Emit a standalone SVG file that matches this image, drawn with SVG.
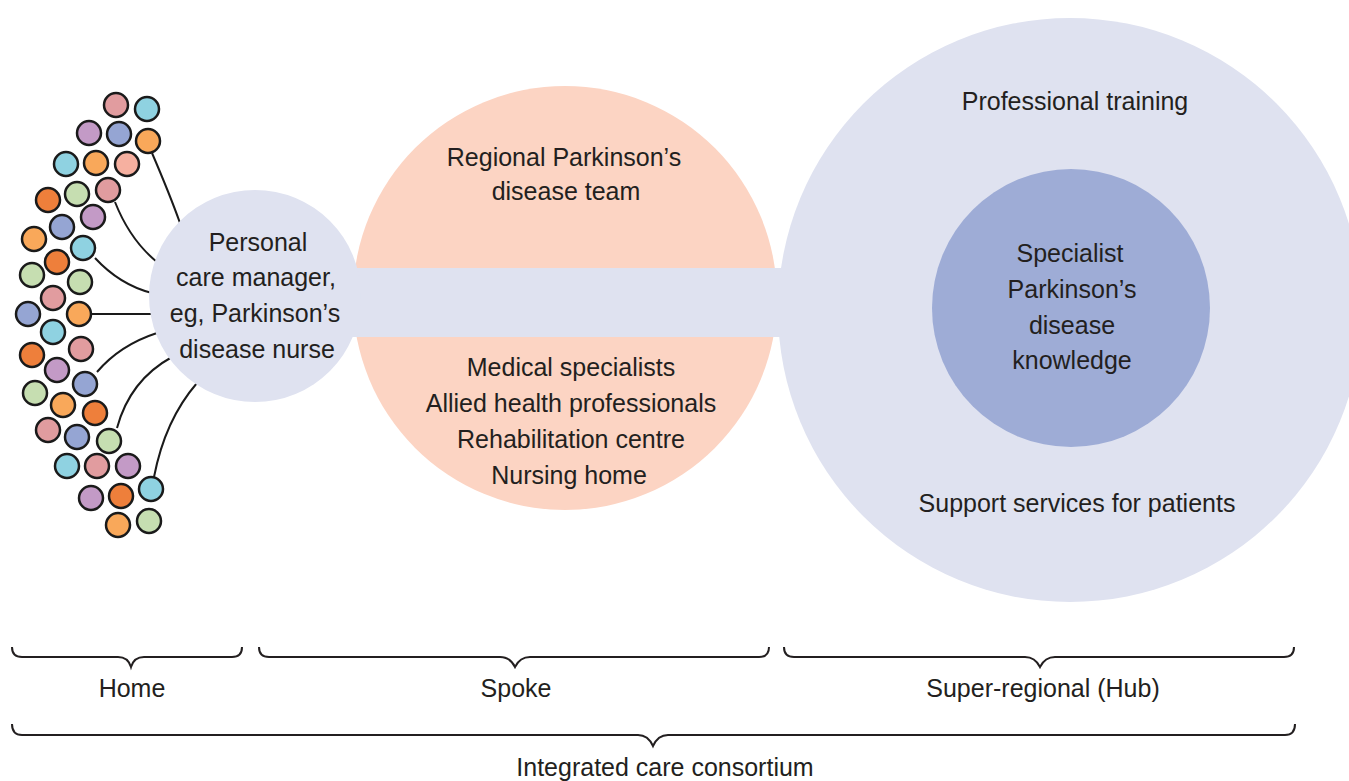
<svg xmlns="http://www.w3.org/2000/svg" width="1349" height="781" viewBox="0 0 1349 781">
<style>
.t{font-family:"Liberation Sans","Noto Sans",sans-serif;font-size:25px;fill:#231f20;text-anchor:middle}
.dot{stroke:#1a1a1a;stroke-width:2.5}
.ln{fill:none;stroke:#1a1a1a;stroke-width:2}
.br{fill:none;stroke:#231f20;stroke-width:2}
.pk{fill:#e19c9f}.cy{fill:#8fd2e1}.pu{fill:#c39ac6}.bl{fill:#95a5d3}.or{fill:#f9a85a}.sa{fill:#f6b0a0}.do{fill:#ee7f3b}.gr{fill:#c6deb1}
</style>
<rect width="1349" height="781" fill="#ffffff"/>
<g id="hub">
<circle cx="1070" cy="310" r="292" fill="#dfe2f0"/>
<circle cx="1071" cy="308" r="139" fill="#9eacd6"/>
<text class="t" x="1075" y="110">Professional training</text>
<text class="t" x="1070" y="262">Specialist</text>
<text class="t" x="1072" y="298">Parkinson’s</text>
<text class="t" x="1072" y="334">disease</text>
<text class="t" x="1072" y="369">knowledge</text>
<text class="t" x="1077" y="512">Support services for patients</text>
</g>
<g id="spoke">
<circle cx="565" cy="298" r="212" fill="#fcd4c3"/>
<text class="t" x="564" y="166">Regional Parkinson’s</text>
<text class="t" x="566" y="200">disease team</text>
<text class="t" x="571" y="376">Medical specialists</text>
<text class="t" x="571" y="412">Allied health professionals</text>
<text class="t" x="571" y="448">Rehabilitation centre</text>
<text class="t" x="569" y="484">Nursing home</text>
</g>
<g id="band">
<rect x="300" y="268" width="500" height="69" fill="#dfe2f0"/>
</g>
<g id="connectors">
<path class="ln" d="M152,153 Q170,195 180,223"/>
<path class="ln" d="M115,202 Q130,240 157,262"/>
<path class="ln" d="M95,258 Q120,285 152,293"/>
<path class="ln" d="M92,314 H153"/>
<path class="ln" d="M97,372 Q120,345 157,333"/>
<path class="ln" d="M117,428 Q130,380 172,357"/>
<path class="ln" d="M154,477 Q165,420 197,383"/>
</g>
<g id="care-manager">
<circle cx="255" cy="296" r="106" fill="#dfe2f0"/>
<text class="t" x="258" y="251">Personal</text>
<text class="t" x="256" y="286">care manager,</text>
<text class="t" x="255" y="322">eg, Parkinson’s</text>
<text class="t" x="257" y="358">disease nurse</text>
</g>
<g id="people">
<circle class="dot pk" cx="116" cy="105" r="12"/>
<circle class="dot cy" cx="147" cy="109" r="12"/>
<circle class="dot pu" cx="89" cy="133" r="12"/>
<circle class="dot bl" cx="119" cy="134" r="12"/>
<circle class="dot or" cx="148" cy="141" r="12"/>
<circle class="dot cy" cx="66" cy="164" r="12"/>
<circle class="dot or" cx="96" cy="163" r="12"/>
<circle class="dot sa" cx="127" cy="164" r="12"/>
<circle class="dot do" cx="48" cy="200" r="12"/>
<circle class="dot gr" cx="77" cy="194" r="12"/>
<circle class="dot pk" cx="108" cy="190" r="12"/>
<circle class="dot bl" cx="62" cy="227" r="12"/>
<circle class="dot pu" cx="93" cy="217" r="12"/>
<circle class="dot or" cx="34" cy="239" r="12"/>
<circle class="dot cy" cx="83" cy="248" r="12"/>
<circle class="dot do" cx="57" cy="262" r="12"/>
<circle class="dot gr" cx="32" cy="275" r="12"/>
<circle class="dot gr" cx="80" cy="282" r="12"/>
<circle class="dot pk" cx="53" cy="298" r="12"/>
<circle class="dot bl" cx="28" cy="314" r="12"/>
<circle class="dot or" cx="79" cy="314" r="12"/>
<circle class="dot cy" cx="53" cy="332" r="12"/>
<circle class="dot do" cx="32" cy="355" r="12"/>
<circle class="dot pk" cx="81" cy="349" r="12"/>
<circle class="dot pu" cx="57" cy="370" r="12"/>
<circle class="dot bl" cx="85" cy="384" r="12"/>
<circle class="dot gr" cx="35" cy="393" r="12"/>
<circle class="dot or" cx="63" cy="405" r="12"/>
<circle class="dot do" cx="95" cy="413" r="12"/>
<circle class="dot pk" cx="48" cy="430" r="12"/>
<circle class="dot bl" cx="77" cy="437" r="12"/>
<circle class="dot gr" cx="109" cy="441" r="12"/>
<circle class="dot cy" cx="67" cy="466" r="12"/>
<circle class="dot pk" cx="97" cy="466" r="12"/>
<circle class="dot pu" cx="128" cy="466" r="12"/>
<circle class="dot pu" cx="91" cy="498" r="12"/>
<circle class="dot do" cx="121" cy="496" r="12"/>
<circle class="dot cy" cx="151" cy="489" r="12"/>
<circle class="dot or" cx="118" cy="525" r="12"/>
<circle class="dot gr" cx="149" cy="521" r="12"/>
</g>
<g id="brackets">
<path class="br" d="M12,647 Q12,657 22,657 H118 Q128,657 131,667 Q134,657 144,657 H232 Q242,657 242,647"/>
<path class="br" d="M259,647 Q259,657 269,657 H500 Q510,657 515,667 Q520,657 530,657 H759 Q769,657 769,647"/>
<path class="br" d="M784,647 Q784,657 794,657 H1025 Q1035,657 1040,667 Q1045,657 1055,657 H1284 Q1294,657 1294,647"/>
<path class="br" d="M12,724 Q12,735 22,735 H638 Q648,735 653,746 Q658,735 668,735 H1285 Q1295,735 1295,724"/>
<text class="t" x="132" y="697">Home</text>
<text class="t" x="516" y="697">Spoke</text>
<text class="t" x="1043" y="697">Super-regional (Hub)</text>
<text class="t" x="665" y="776">Integrated care consortium</text>
</g>
</svg>
